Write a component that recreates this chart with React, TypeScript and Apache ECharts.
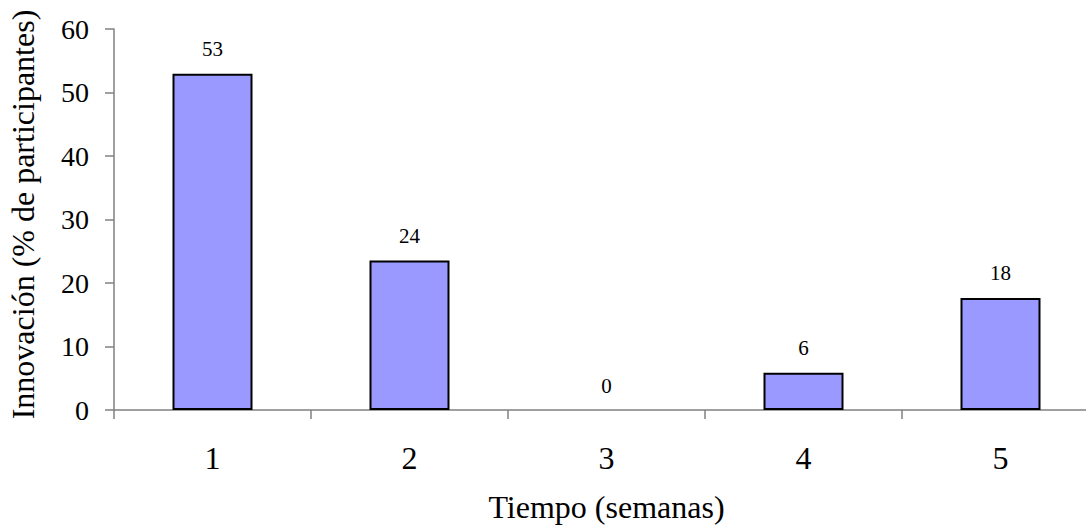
import React, { useEffect, useRef } from "react";
import * as echarts from "echarts";

const categories = ["1", "2", "3", "4", "5"];
const values = [52.94, 23.53, 0, 5.88, 17.65];
const yTicks = { min: 0, max: 60, interval: 10 };

export default function App() {
  const ref = useRef<HTMLDivElement>(null);
  useEffect(() => {
    const chart = echarts.init(ref.current!, null, { renderer: "svg" });
    const font = "Liberation Serif";
    chart.setOption({
      animation: false,
      backgroundColor: "#ffffff",
      textStyle: { fontFamily: font },
      grid: {
        left: 114,
        top: 29,
        width: 985,
        height: 381,
        containLabel: false,
        outerBoundsMode: "none",
      },
      xAxis: {
        type: "category",
        data: categories,
        name: "Tiempo (semanas)",
        nameLocation: "middle",
        nameGap: 81,
        nameTextStyle: { fontSize: 32, color: "#000", fontFamily: font },
        axisLine: { lineStyle: { color: "#808080", width: 1.5 } },
        axisTick: { show: true, length: 9, lineStyle: { color: "#808080", width: 1.5 } },
        axisLabel: { fontSize: 32, color: "#000", margin: 32, fontFamily: font },
      },
      yAxis: {
        type: "value",
        min: yTicks.min,
        max: yTicks.max,
        interval: yTicks.interval,
        name: "Innovación (% de participantes)",
        nameLocation: "middle",
        nameGap: 75,
        nameTextStyle: { fontSize: 32, color: "#000", fontFamily: font, padding: [0, 0, 0, 10] },
        splitLine: { show: false },
        axisLine: { show: true, lineStyle: { color: "#808080", width: 1.5 } },
        axisTick: { show: true, length: 9, lineStyle: { color: "#808080", width: 1.5 } },
        axisLabel: { fontSize: 28, color: "#000", margin: 25, fontFamily: font },
      },
      series: [
        {
          type: "bar",
          data: values.map((v) => ({
            value: v,
            itemStyle: v === 0 ? { borderWidth: 0 } : undefined,
          })),
          barWidth: 80,
          itemStyle: { color: "#9999FF", borderColor: "#000", borderWidth: 2 },
          label: {
            show: true,
            position: "top",
            distance: 14,
            fontSize: 21,
            color: "#000",
            fontFamily: font,
            formatter: (p: any) => String(Math.round(p.value)),
          },
        },
      ],
    });
    return () => chart.dispose();
  }, []);
  return (
    <div
      style={{
        position: "fixed",
        left: 0,
        top: 0,
        width: 1086,
        height: 527,
        overflow: "hidden",
        background: "#fff",
      }}
    >
      <div ref={ref} style={{ width: 1086, height: 527 }} />
    </div>
  );
}
